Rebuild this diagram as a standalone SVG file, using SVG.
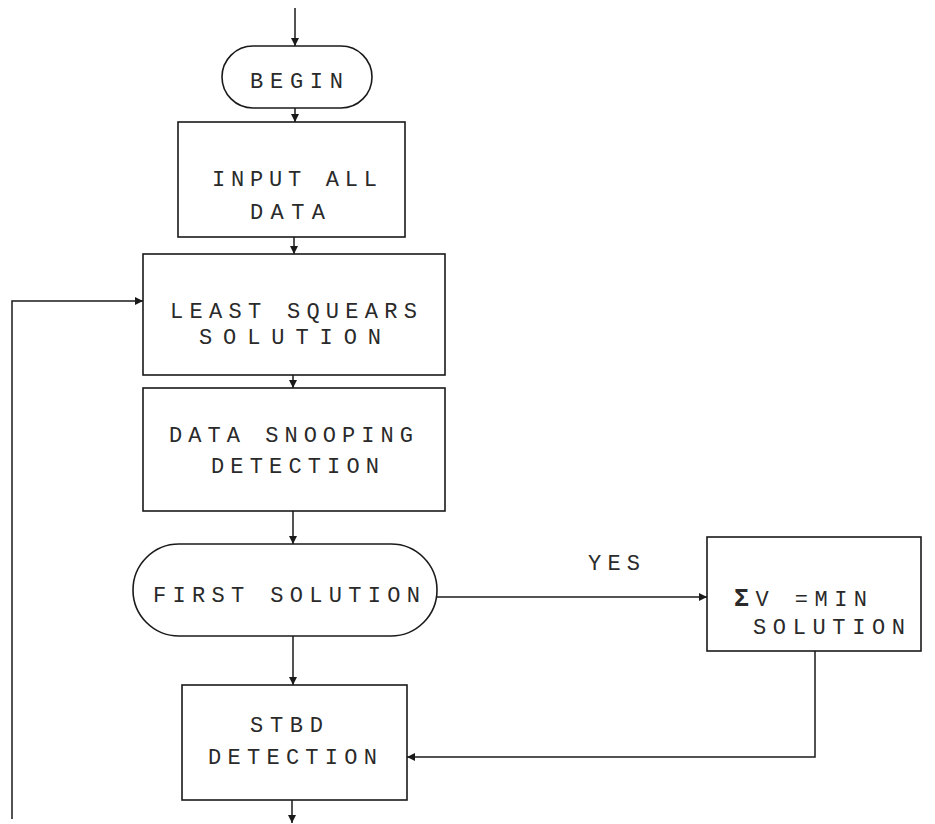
<svg xmlns="http://www.w3.org/2000/svg" width="935" height="824" viewBox="0 0 935 824">
<defs>
<style>
.n{fill:none;stroke:#1a1a1a;stroke-width:1.6}
.c{fill:none;stroke:#1a1a1a;stroke-width:1.5}
.t{font-family:"Liberation Mono","DejaVu Sans Mono",monospace;font-size:22px;fill:#2a2a2a}
</style>
<marker id="a" viewBox="0 0 10 10" refX="10" refY="5" markerWidth="8" markerHeight="8" markerUnits="userSpaceOnUse" orient="auto">
<path d="M0,0 L10,5 L0,10 z" fill="#1a1a1a"/>
</marker>
</defs>
<rect width="935" height="824" fill="#fff"/>
<g id="connectors">
<line class="c" x1="295" y1="8" x2="295" y2="46" marker-end="url(#a)"/>
<line class="c" x1="295" y1="108" x2="295" y2="122" marker-end="url(#a)"/>
<line class="c" x1="294" y1="237" x2="294" y2="254" marker-end="url(#a)"/>
<line class="c" x1="293" y1="375" x2="293" y2="388" marker-end="url(#a)"/>
<line class="c" x1="293" y1="511" x2="293" y2="544" marker-end="url(#a)"/>
<line class="c" x1="293" y1="636" x2="293" y2="685" marker-end="url(#a)"/>
<line class="c" x1="292" y1="800" x2="292" y2="823" marker-end="url(#a)"/>
<polyline class="c" points="12,819 12,301 143,301" marker-end="url(#a)"/>
<line class="c" x1="437" y1="597" x2="707" y2="597" marker-end="url(#a)"/>
<polyline class="c" points="815,651 815,757 407,757" marker-end="url(#a)"/>
<text class="t" x="588" y="570" textLength="52" lengthAdjust="spacing">YES</text>
</g>
<g id="begin">
<rect class="n" x="222" y="46" width="150" height="62" rx="31" ry="31"/>
<text class="t" x="250" y="88" textLength="93" lengthAdjust="spacing">BEGIN</text>
</g>
<g id="input">
<rect class="n" x="178" y="122" width="227" height="115"/>
<text class="t" x="212" y="186" textLength="165" lengthAdjust="spacing">INPUT ALL</text>
<text class="t" x="250" y="219" textLength="75" lengthAdjust="spacing">DATA</text>
</g>
<g id="lsq">
<rect class="n" x="143" y="254" width="302" height="121"/>
<text class="t" x="170" y="318" textLength="247" lengthAdjust="spacing">LEAST SQUEARS</text>
<text class="t" x="199" y="344" textLength="182" lengthAdjust="spacing">SOLUTION</text>
</g>
<g id="snoop">
<rect class="n" x="143" y="388" width="302" height="123"/>
<text class="t" x="169" y="442" textLength="244" lengthAdjust="spacing">DATA SNOOPING</text>
<text class="t" x="211" y="473" textLength="168" lengthAdjust="spacing">DETECTION</text>
</g>
<g id="first">
<rect class="n" x="133" y="544" width="304" height="92" rx="46" ry="46"/>
<text class="t" x="153" y="602" textLength="267" lengthAdjust="spacing">FIRST SOLUTION</text>
</g>
<g id="min">
<rect class="n" x="707" y="537" width="214" height="114"/>
<text class="t" x="734" y="606" textLength="133" lengthAdjust="spacing"><tspan font-weight="bold" font-size="25">Σ</tspan>V =MIN</text>
<text class="t" x="753" y="634" textLength="152" lengthAdjust="spacing">SOLUTION</text>
</g>
<g id="stbd">
<rect class="n" x="182" y="685" width="225" height="115"/>
<text class="t" x="250" y="732" textLength="73" lengthAdjust="spacing">STBD</text>
<text class="t" x="208" y="764" textLength="169" lengthAdjust="spacing">DETECTION</text>
</g>
</svg>
